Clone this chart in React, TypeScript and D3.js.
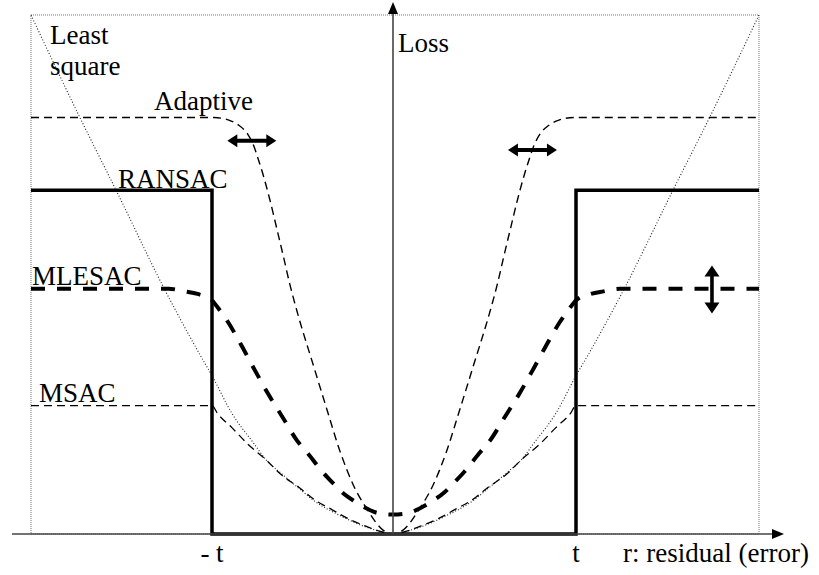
import React from "react";
import * as d3 from "d3";

// Residual r in units of the threshold t; loss in arbitrary units.
// Each curve is given for r >= 0 and mirrored for r < 0.
const lsR = [0, 0.12, 0.29, 0.44, 0.51, 0.62, 0.7, 0.77, 0.89, 1.0, 1.07, 1.26, 1.53, 1.73, 2.0];
const lsLoss = [0, 0.04, 0.14, 0.26, 0.34, 0.47, 0.57, 0.7, 0.93, 1.22, 1.39, 1.88, 2.65, 3.21, 4.0];

const adaptiveR = [0, 0.055, 0.143, 0.22, 0.291, 0.363, 0.44, 0.527, 0.571, 0.604, 0.643, 0.681, 0.72, 0.747, 0.769, 0.802, 0.852, 0.907, 0.989, 2.0];
const adaptiveLoss = [0, 0.03, 0.19, 0.38, 0.63, 0.95, 1.3, 1.7, 1.93, 2.13, 2.36, 2.58, 2.78, 2.9, 2.99, 3.08, 3.15, 3.19, 3.21, 3.21];

const mlesacR = [0, 0.08, 0.15, 0.21, 0.28, 0.33, 0.39, 0.47, 0.53, 0.61, 0.69, 0.77, 0.84, 0.91, 0.96, 1.0, 1.08, 1.15, 1.24, 2.0];
const mlesacLoss = [0.15, 0.16, 0.2, 0.25, 0.32, 0.39, 0.48, 0.62, 0.72, 0.9, 1.08, 1.28, 1.46, 1.63, 1.73, 1.8, 1.85, 1.87, 1.89, 1.89];

const msacR = [0, 0.07, 0.15, 0.25, 0.34, 0.43, 0.52, 0.62, 0.7, 0.8, 0.89, 0.97, 1.0, 2.0];
const msacLoss = [0, 0.02, 0.06, 0.12, 0.19, 0.26, 0.36, 0.46, 0.57, 0.69, 0.82, 0.93, 0.99, 0.99];

// RANSAC: 0/1 loss drawn as a step
const ransacR = [-2, -1, -1, 1, 1, 2];
const ransacLoss = [2.65, 2.65, 0, 0, 2.65, 2.65];

const tickLabels = ["- t", "t"];
const tickR = [-1, 1];

type Pt = [number, number];

function mirrored(rs: number[], ls: number[]): Pt[] {
  const right: Pt[] = rs.map((r, i) => [r, ls[i]]);
  const left: Pt[] = right.slice(1).reverse().map(([r, l]) => [-r, l]);
  return [...left, ...right];
}

const W = 819;
const H = 575;
const FONT = "Liberation Serif";

export default function App() {
  const x = d3.scaleLinear().domain([-2, 0, 2]).range([31, 393, 759]);
  const y = d3.scaleLinear().domain([0, 4]).range([534, 15]);

  const smooth = d3
    .line<Pt>()
    .x((d) => x(d[0]))
    .y((d) => y(d[1]))
    .curve(d3.curveMonotoneX);
  const straight = d3
    .line<Pt>()
    .x((d) => x(d[0]))
    .y((d) => y(d[1]));

  const lsPath = smooth(mirrored(lsR, lsLoss)) || "";
  const adaptivePath = smooth(mirrored(adaptiveR, adaptiveLoss)) || "";
  const mlesacPath = smooth(mirrored(mlesacR, mlesacLoss)) || "";
  const msacPath = smooth(mirrored(msacR, msacLoss)) || "";
  const ransacPath = straight(ransacR.map((r, i) => [r, ransacLoss[i]] as Pt)) || "";

  const x0 = x(0);
  const yBase = y(0);

  // double-headed arrow polygon, centred at (cx, cy)
  const hArrow = (cx: number, cy: number, half: number) => {
    const head = 10, hw = 6.5, sw = 2;
    return `M${cx - half},${cy} L${cx - half + head},${cy - hw} L${cx - half + head},${cy - sw} L${cx + half - head},${cy - sw} L${cx + half - head},${cy - hw} L${cx + half},${cy} L${cx + half - head},${cy + hw} L${cx + half - head},${cy + sw} L${cx - half + head},${cy + sw} L${cx - half + head},${cy + hw} Z`;
  };
  const vArrow = (cx: number, cy: number, half: number) => {
    const head = 11, hw = 7.5, sw = 1.8;
    return `M${cx},${cy - half} L${cx + hw},${cy - half + head} L${cx + sw},${cy - half + head} L${cx + sw},${cy + half - head} L${cx + hw},${cy + half - head} L${cx},${cy + half} L${cx - hw},${cy + half - head} L${cx - sw},${cy + half - head} L${cx - sw},${cy - half + head} L${cx - hw},${cy - half + head} Z`;
  };

  return (
    <svg
      width={W}
      height={H}
      viewBox={`0 0 ${W} ${H}`}
      style={{ position: "absolute", left: 0, top: 0, background: "#fff" }}
    >
      <rect x={0} y={0} width={W} height={H} fill="#fff" />

      {/* dotted frame */}
      <rect
        x={x(-2)}
        y={y(4)}
        width={x(2) - x(-2)}
        height={y(0) - y(4)}
        fill="none"
        stroke="#777"
        strokeWidth={1}
        strokeDasharray="1,1"
      />

      {/* least squares */}
      <path d={lsPath} fill="none" stroke="#222" strokeWidth={1.1} strokeDasharray="1,2" />

      {/* MSAC */}
      <path d={msacPath} fill="none" stroke="#000" strokeWidth={1.3} strokeDasharray="8,5" />

      {/* MLESAC */}
      <path d={mlesacPath} fill="none" stroke="#000" strokeWidth={4} strokeDasharray="14,12" />

      {/* Adaptive */}
      <path d={adaptivePath} fill="none" stroke="#000" strokeWidth={1.4} strokeDasharray="8,5" />

      {/* RANSAC */}
      <path d={ransacPath} fill="none" stroke="#000" strokeWidth={3.5} strokeLinejoin="miter" />

      {/* axes */}
      <line x1={12} y1={yBase} x2={775} y2={yBase} stroke="#444" strokeWidth={1.6} />
      <path d={`M784,${yBase} L772,${yBase - 5} L772,${yBase + 5} Z`} fill="#000" />
      <line x1={x0} y1={yBase} x2={x0} y2={12} stroke="#444" strokeWidth={1.6} />
      <path d={`M${x0},2 L${x0 - 5},14 L${x0 + 5},14 Z`} fill="#000" />

      {/* arrows showing how the adaptive and MLESAC shapes can move */}
      <path d={hArrow(x(-0.78), y(3.03), 24.5)} fill="#000" />
      <path d={hArrow(x(0.762), y(2.96), 24.5)} fill="#000" />
      <path d={vArrow(x(1.743), y(1.885), 24)} fill="#000" />

      {/* labels */}
      <g fontFamily={FONT} fontSize={27} fill="#000">
        <text x={50} y={44}>Least</text>
        <text x={50} y={75}>square</text>
        <text x={154} y={110}>Adaptive</text>
        <text x={118} y={188}>RANSAC</text>
        <text x={32} y={285}>MLESAC</text>
        <text x={39} y={402}>MSAC</text>
        <text x={398} y={52}>Loss</text>
        {tickLabels.map((lab, i) => (
          <text key={lab} x={x(tickR[i])} y={562} textAnchor="middle">
            {lab}
          </text>
        ))}
        <text x={623} y={562}>r: residual (error)</text>
      </g>
    </svg>
  );
}
